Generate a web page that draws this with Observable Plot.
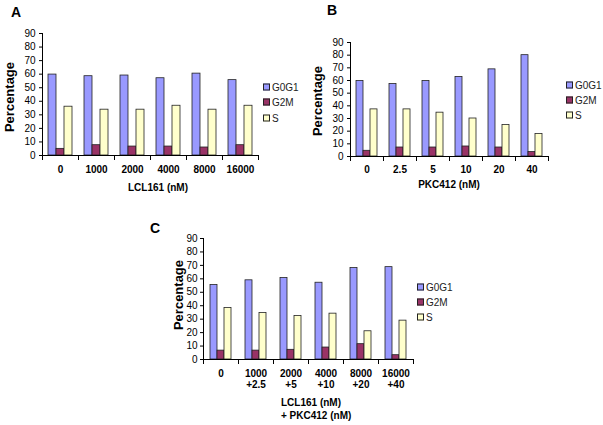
<!DOCTYPE html>
<html>
<head>
<meta charset="utf-8">
<script src="https://cdn.jsdelivr.net/npm/d3@7"></script>
<script src="https://cdn.jsdelivr.net/npm/@observablehq/plot@0.6"></script>
<style>
  html, body { margin: 0; padding: 0; background: #fff; }
  #root { position: relative; width: 603px; height: 425px; overflow: hidden; font-family: "Liberation Sans", Arial, sans-serif; color: #000; }
  .abs { position: absolute; white-space: nowrap; }
  .panel-label { font-size: 14px; font-weight: bold; transform: translate(-50%, -50%); }
  .ylab { font-size: 13px; font-weight: bold; transform: translate(-50%, -50%) rotate(-90deg); }
  .xtitle { font-size: 10px; font-weight: bold; line-height: 13px; }
  .leg { font-size: 10px; display: flex; align-items: center; transform: translateY(-50%); color: #222; }
  .sw { width: 5px; height: 5px; border: 0.8px solid #222; margin-right: 2px; }
  svg g[aria-label="fx-axis tick label"] text { font-weight: bold; }
  svg { font-family: "Liberation Sans", Arial, sans-serif; overflow: visible; }
</style>
</head>
<body>
<div id="root"></div>
<script>
// ---- data ----
const series = ["G0G1", "G2M", "S"];
const seriesColors = ["#9999ff", "#993366", "#ffffcc"];
const yTicks = [0, 10, 20, 30, 40, 50, 60, 70, 80, 90];

const catsA = ["0", "1000", "2000", "4000", "8000", "16000"];
const a_G0G1 = [59.7, 58.5, 59, 57, 60.4, 55.6];
const a_G2M  = [4.9, 7.6, 6.6, 6.6, 5.9, 7.6];
const a_S    = [36, 33.8, 33.8, 36.7, 33.8, 36.7];

const catsB = ["0", "2.5", "5", "10", "20", "40"];
const b_G0G1 = [59.6, 57.2, 59.6, 62.8, 68.8, 80];
const b_G2M  = [4.5, 7.1, 7.1, 7.9, 7.1, 3.5];
const b_S    = [37.2, 37.2, 34.6, 30, 24.8, 17.7];

const catsC = ["0", "1000\n+2.5", "2000\n+5", "4000\n+10", "8000\n+20", "16000\n+40"];
const c_G0G1 = [55.4, 58.9, 60.6, 57.1, 68, 68.7];
const c_G2M  = [6.6, 6.6, 7.2, 8.9, 11.4, 3.2];
const c_S    = [38.3, 34.6, 32.4, 34.1, 21, 28.9];

const titleA = ["LCL161 (nM)"];
const titleB = ["PKC412 (nM)"];
const titleC = ["LCL161 (nM)", "+ PKC412 (nM)"];

function rows(cats, vals) {
  const out = [];
  cats.forEach((c, i) => series.forEach((s, j) => out.push({cat: c, series: s, value: vals[j][i]})));
  return out;
}

const root = document.getElementById("root");

function addText(cls, x, y, html) {
  const d = document.createElement("div");
  d.className = "abs " + cls;
  d.style.left = x + "px";
  d.style.top = y + "px";
  d.innerHTML = html;
  root.appendChild(d);
  return d;
}

function panel(cfg) {
  const plotH = cfg.height - cfg.mt - cfg.mb;
  const plot = Plot.plot({
    width: cfg.width,
    height: cfg.height,
    marginLeft: cfg.ml,
    marginRight: cfg.mr,
    marginTop: cfg.mt,
    marginBottom: cfg.mb,
    style: {fontSize: "10px", color: "#000", background: "transparent"},
    fx: {domain: cfg.cats, padding: 0, label: null},
    x: {domain: series, paddingInner: 0, paddingOuter: 0.75, axis: null},
    y: {domain: [0, 90], label: null},
    color: {domain: series, range: seriesColors},
    marks: [
      Plot.barY(cfg.data, {fx: "cat", x: "series", y: "value", fill: "series", stroke: "#222", strokeWidth: 0.8}),
      Plot.axisY({ticks: yTicks, tickSize: 3, tickPadding: cfg.ytp, label: null, stroke: "#000"}),
      Plot.axisFx({anchor: "bottom", tickSize: 0, tickPadding: cfg.xtp, label: null, lineHeight: 1.1}),
      Plot.frame({anchor: "left", facetAnchor: "left", stroke: "#000"}),
      Plot.ruleY([0], {stroke: "#000"}),
      Plot.frame({anchor: "left", insetTop: plotH, insetBottom: -4, stroke: "#000"}),
      Plot.frame({anchor: "right", insetTop: plotH, insetBottom: -4, stroke: "#000"})
    ]
  });
  const wrap = document.createElement("div");
  wrap.className = "abs";
  wrap.style.left = cfg.left + "px";
  wrap.style.top = cfg.top + "px";
  wrap.appendChild(plot);
  root.appendChild(wrap);

  addText("panel-label", cfg.labelPos[0], cfg.labelPos[1], cfg.label);
  addText("ylab", cfg.ylabPos[0], cfg.ylabPos[1], "Percentage");
  const t = addText("xtitle", cfg.titlePos[0], cfg.titlePos[1], cfg.title.join("<br>"));
  if (cfg.titleCenter) t.style.transform = "translate(-50%, -50%)";
  series.forEach((s, i) => {
    addText("leg", cfg.legX, cfg.legY[i],
      `<span class="sw" style="background:${seriesColors[i]}"></span><span>${s}</span>`);
  });
}

panel({
  left: 0, top: 0, width: 262, height: 200, ml: 41, mr: 3, mt: 33, mb: 45, ytp: 4, xtp: 10,
  cats: catsA, data: rows(catsA, [a_G0G1, a_G2M, a_S]),
  label: "A", labelPos: [16, 12], ylabPos: [9, 97],
  title: titleA, titlePos: [158, 187], titleCenter: true,
  legX: 263, legY: [87, 102, 118]
});

panel({
  left: 300, top: 0, width: 252, height: 200, ml: 48, mr: 2, mt: 42, mb: 44, ytp: 4, xtp: 9,
  cats: catsB, data: rows(catsB, [b_G0G1, b_G2M, b_S]),
  label: "B", labelPos: [332, 10], ylabPos: [317, 101],
  title: titleB, titlePos: [449, 184], titleCenter: true,
  legX: 566, legY: [85, 100, 115]
});

panel({
  left: 150, top: 200, width: 265, height: 225, ml: 53, mr: 2, mt: 38, mb: 66, ytp: 3, xtp: 10,
  cats: catsC, data: rows(catsC, [c_G0G1, c_G2M, c_S]),
  label: "C", labelPos: [155, 228], ylabPos: [178, 295],
  title: titleC, titlePos: [281, 396], titleCenter: false,
  legX: 417, legY: [287, 302, 317]
});
</script>
</body>
</html>
